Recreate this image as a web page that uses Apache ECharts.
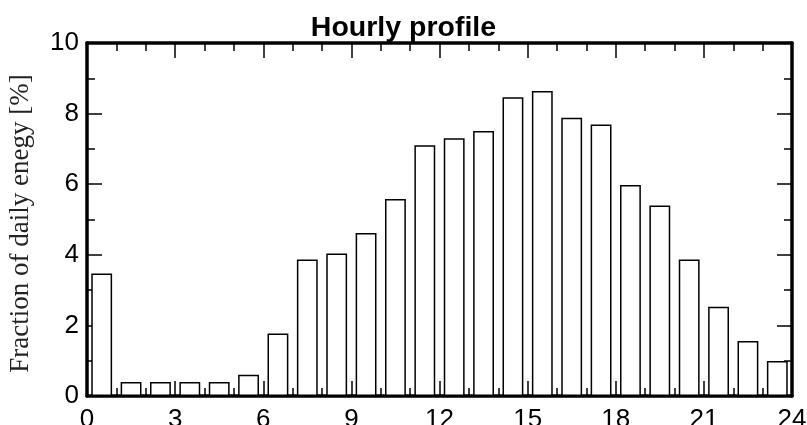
<!DOCTYPE html>
<html>
<head>
<meta charset="utf-8">
<script src="https://cdn.jsdelivr.net/npm/echarts@6/dist/echarts.min.js"></script>
<style>html,body{margin:0;padding:0;background:#fff}#c{width:807px;height:425px}</style>
</head>
<body>
<div id="c"></div>
<script>
var hours = ['0','1','2','3','4','5','6','7','8','9','10','11','12','13','14','15','16','17','18','19','20','21','22','23'];
var fractions = [3.47,0.40,0.40,0.40,0.40,0.60,1.77,3.87,4.04,4.62,5.58,7.10,7.30,7.51,8.46,8.64,7.88,7.69,5.98,5.40,3.87,2.53,1.56,0.99];
var titleText = 'Hourly profile';
var yName = 'Fraction of daily enegy [%]';

var chart = echarts.init(document.getElementById('c'), null, {renderer: 'canvas'});
var lineStyle = {color: '#000', width: 3.5};
var tickStyle = {color: '#000', width: 1.5};
function valX(pos, showLabel) {
  return {
    type: 'value', position: pos, min: 0, max: 24, interval: 3,
    axisLine: {show: true, onZero: false, lineStyle: lineStyle},
    axisTick: {show: true, inside: true, length: 15, lineStyle: tickStyle},
    minorTick: {show: true, splitNumber: 3, length: 8, lineStyle: tickStyle},
    axisLabel: {show: showLabel, color: '#000', fontSize: 26, fontFamily: 'Liberation Sans', margin: 11},
    splitLine: {show: false}
  };
}
function valY(pos, showLabel) {
  return {
    type: 'value', position: pos, min: 0, max: 10, interval: 2,
    axisLine: {show: true, onZero: false, lineStyle: lineStyle},
    axisTick: {show: true, inside: true, length: 15, lineStyle: tickStyle},
    minorTick: {show: true, splitNumber: 2, length: 8, lineStyle: tickStyle},
    axisLabel: {show: showLabel, color: '#000', fontSize: 26, fontFamily: 'Liberation Sans', margin: 8},
    splitLine: {show: false}
  };
}
var yLeft = valY('left', true);
yLeft.name = yName;
yLeft.nameLocation = 'middle';
yLeft.nameGap = 53;
yLeft.nameTextStyle = {fontFamily: 'Liberation Serif', fontSize: 27, color: '#222', padding: [0, 8, 0, 0]};

chart.setOption({
  animation: false,
  backgroundColor: '#fff',
  title: {
    text: titleText, left: 'center', top: 9,
    textStyle: {fontFamily: 'Liberation Sans', fontWeight: 'bold', fontSize: 28.5, color: '#000'}
  },
  grid: {left: 87, right: 15, top: 43, bottom: 29, containLabel: false, outerBoundsMode: 'none'},
  xAxis: [
    {type: 'category', data: hours, show: false, boundaryGap: true},
    valX('bottom', true),
    valX('top', false)
  ],
  yAxis: [yLeft, valY('right', false)],
  series: [{
    type: 'bar',
    xAxisIndex: 0,
    yAxisIndex: 0,
    data: fractions,
    barWidth: '71%',
    itemStyle: {color: '#fff', borderColor: '#000', borderWidth: 1.5},
    z: 1
  }]
});
</script>
</body>
</html>
